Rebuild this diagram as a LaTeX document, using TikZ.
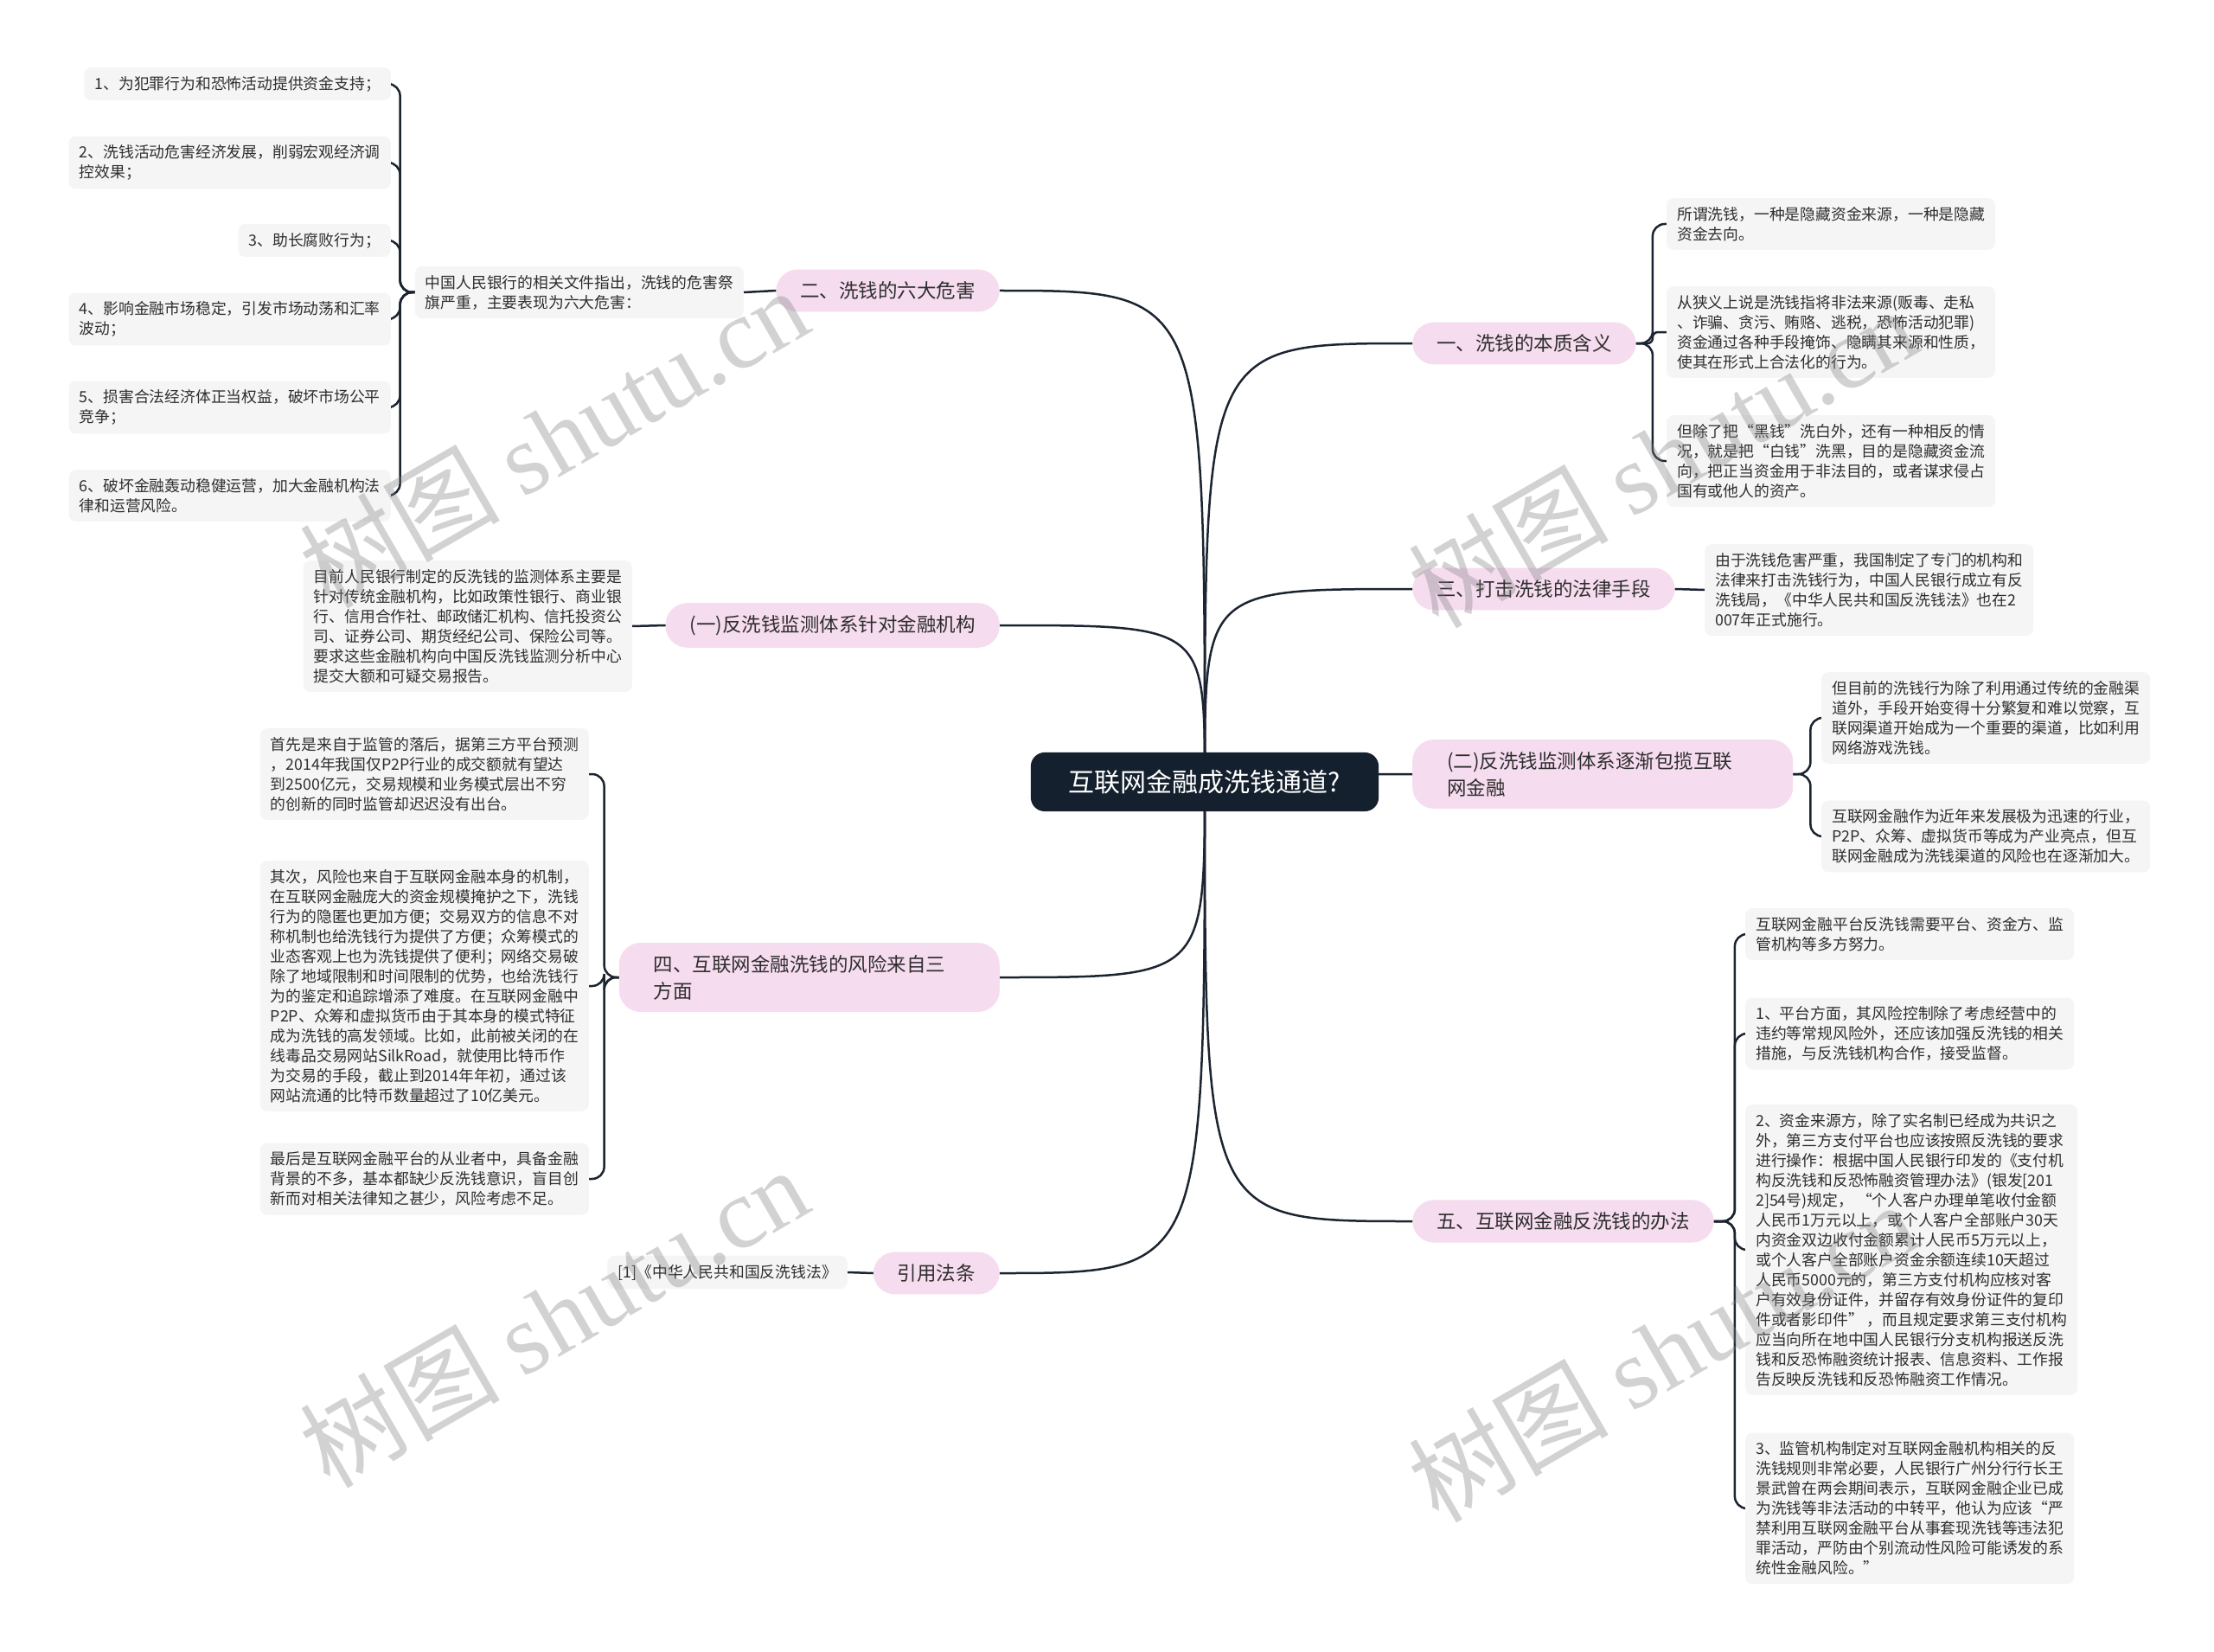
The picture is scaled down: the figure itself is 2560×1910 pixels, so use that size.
\documentclass[tikz,border=0pt]{standalone}
\usepackage{fontspec}
\setmainfont{Noto Sans CJK SC}
\newfontfamily\wmserif{Liberation Serif}
\usetikzlibrary{backgrounds}
\definecolor{rootc}{HTML}{15202E}
\definecolor{pinkc}{HTML}{F6DCEF}
\definecolor{leafc}{HTML}{F5F5F5}
\definecolor{linec}{HTML}{1B2430}
\definecolor{txtc}{HTML}{2E2E2E}
\tikzset{
 rootnode/.style={fill=rootc, text=white, rounded corners=16pt, inner xsep=44pt, inner ysep=20pt, font=\fontsize{30}{36}\selectfont},
 topic/.style={fill=pinkc, text=txtc, rounded corners=25pt, inner xsep=28pt, inner ysep=14pt, font=\fontsize{22.5}{31}\selectfont},
 topicwide/.style={topic, text width=360pt, inner xsep=40pt, align=left},
 leaf/.style={fill=leafc, text=txtc, rounded corners=8pt, inner xsep=12pt, inner ysep=10pt, align=left, font=\fontsize{17.8}{23}\selectfont},
 conn/.style={draw=linec, line width=2.5pt, line cap=round},
 brk/.style={conn, rounded corners=14pt},
 wm/.style={text=black!50, opacity=0.35, rotate=30, font=\fontsize{116}{116}\selectfont}
}
\begin{document}
\begin{tikzpicture}[x=1pt,y=-1pt]
\useasboundingbox (0,0) rectangle (2560,1910);
% root
\node[rootnode] (root) at (1393,904) {互联网金融成洗钱通道?};
% level 1
\node[topic, anchor=east] (n2) at (1156,336) {二、洗钱的六大危害};
\node[topic, anchor=east] (na) at (1156,723) {(一)反洗钱监测体系针对金融机构};
\node[topicwide, anchor=east] (n4) at (1156,1130) {四、互联网金融洗钱的风险来自三\\方面};
\node[topic, anchor=east] (nr) at (1156,1472) {引用法条};
\node[topic, anchor=west] (n1) at (1633,397) {一、洗钱的本质含义};
\node[topic, anchor=west] (n3) at (1633,681) {三、打击洗钱的法律手段};
\node[topicwide, anchor=west] (nb) at (1633,895) {(二)反洗钱监测体系逐渐包揽互联\\网金融};
\node[topic, anchor=west] (n5) at (1633,1412) {五、互联网金融反洗钱的办法};
% left leaves
\node[leaf, anchor=east] (hi) at (860,338) {中国人民银行的相关文件指出，洗钱的危害祭\\旗严重，主要表现为六大危害：};
\node[leaf, anchor=east] (h1) at (452,97) {1、为犯罪行为和恐怖活动提供资金支持；};
\node[leaf, anchor=east] (h2) at (452,188) {2、洗钱活动危害经济发展，削弱宏观经济调\\控效果；};
\node[leaf, anchor=east] (h3) at (452,278) {3、助长腐败行为；};
\node[leaf, anchor=east] (h4) at (452,369) {4、影响金融市场稳定，引发市场动荡和汇率\\波动；};
\node[leaf, anchor=east] (h5) at (452,471) {5、损害合法经济体正当权益，破坏市场公平\\竞争；};
\node[leaf, anchor=east] (h6) at (452,573) {6、破坏金融轰动稳健运营，加大金融机构法\\律和运营风险。};
\node[leaf, anchor=east] (ya) at (731,724) {目前人民银行制定的反洗钱的监测体系主要是\\针对传统金融机构，比如政策性银行、商业银\\行、信用合作社、邮政储汇机构、信托投资公\\司、证券公司、期货经纪公司、保险公司等。\\要求这些金融机构向中国反洗钱监测分析中心\\提交大额和可疑交易报告。};
\node[leaf, anchor=east] (s1) at (681,895) {首先是来自于监管的落后，据第三方平台预测\\，2014年我国仅P2P行业的成交额就有望达\\到2500亿元，交易规模和业务模式层出不穷\\的创新的同时监管却迟迟没有出台。};
\node[leaf, anchor=east] (s2) at (681,1140) {其次，风险也来自于互联网金融本身的机制，\\在互联网金融庞大的资金规模掩护之下，洗钱\\行为的隐匿也更加方便；交易双方的信息不对\\称机制也给洗钱行为提供了方便；众筹模式的\\业态客观上也为洗钱提供了便利；网络交易破\\除了地域限制和时间限制的优势，也给洗钱行\\为的鉴定和追踪增添了难度。在互联网金融中\\P2P、众筹和虚拟货币由于其本身的模式特征\\成为洗钱的高发领域。比如，此前被关闭的在\\线毒品交易网站SilkRoad，就使用比特币作\\为交易的手段，截止到2014年年初，通过该\\网站流通的比特币数量超过了10亿美元。};
\node[leaf, anchor=east] (s3) at (681,1363) {最后是互联网金融平台的从业者中，具备金融\\背景的不多，基本都缺少反洗钱意识，盲目创\\新而对相关法律知之甚少，风险考虑不足。};
\node[leaf, anchor=east] (rf) at (980,1471) {[1]《中华人民共和国反洗钱法》};
% right leaves
\node[leaf, anchor=west] (b1) at (1927,259) {所谓洗钱，一种是隐藏资金来源，一种是隐藏\\资金去向。};
\node[leaf, anchor=west] (b2) at (1927,384) {从狭义上说是洗钱指将非法来源(贩毒、走私\\、诈骗、贪污、贿赂、逃税，恐怖活动犯罪)\\资金通过各种手段掩饰、隐瞒其来源和性质，\\使其在形式上合法化的行为。};
\node[leaf, anchor=west] (b3) at (1927,533) {但除了把“黑钱”洗白外，还有一种相反的情\\况，就是把“白钱”洗黑，目的是隐藏资金流\\向，把正当资金用于非法目的，或者谋求侵占\\国有或他人的资产。};
\node[leaf, anchor=west] (lw) at (1971,682) {由于洗钱危害严重，我国制定了专门的机构和\\法律来打击洗钱行为，中国人民银行成立有反\\洗钱局，《中华人民共和国反洗钱法》也在2\\007年正式施行。};
\node[leaf, anchor=west] (e1) at (2106,830) {但目前的洗钱行为除了利用通过传统的金融渠\\道外，手段开始变得十分繁复和难以觉察，互\\联网渠道开始成为一个重要的渠道，比如利用\\网络游戏洗钱。};
\node[leaf, anchor=west] (e2) at (2106,967) {互联网金融作为近年来发展极为迅速的行业，\\P2P、众筹、虚拟货币等成为产业亮点，但互\\联网金融成为洗钱渠道的风险也在逐渐加大。};
\node[leaf, anchor=west] (f1) at (2018,1080) {互联网金融平台反洗钱需要平台、资金方、监\\管机构等多方努力。};
\node[leaf, anchor=west] (f2) at (2018,1195) {1、平台方面，其风险控制除了考虑经营中的\\违约等常规风险外，还应该加强反洗钱的相关\\措施，与反洗钱机构合作，接受监督。};
\node[leaf, anchor=west] (f3) at (2018,1445) {2、资金来源方，除了实名制已经成为共识之\\外，第三方支付平台也应该按照反洗钱的要求\\进行操作：根据中国人民银行印发的《支付机\\构反洗钱和反恐怖融资管理办法》(银发[201\\2]54号)规定， “个人客户办理单笔收付金额\\人民币1万元以上，或个人客户全部账户30天\\内资金双边收付金额累计人民币5万元以上，\\或个人客户全部账户资金余额连续10天超过\\人民币5000元的，第三方支付机构应核对客\\户有效身份证件，并留存有效身份证件的复印\\件或者影印件” ，而且规定要求第三支付机构\\应当向所在地中国人民银行分支机构报送反洗\\钱和反恐怖融资统计报表、信息资料、工作报\\告反映反洗钱和反恐怖融资工作情况。};
\node[leaf, anchor=west] (f4) at (2018,1744) {3、监管机构制定对互联网金融机构相关的反\\洗钱规则非常必要，人民银行广州分行行长王\\景武曾在两会期间表示，互联网金融企业已成\\为洗钱等非法活动的中转平，他认为应该“严\\禁利用互联网金融平台从事套现洗钱等违法犯\\罪活动，严防由个别流动性风险可能诱发的系\\统性金融风险。”};
% junction coordinates
\coordinate (jh) at ([xshift=-17pt]hi.west);
\coordinate (j4) at ([xshift=-17pt]n4.west);
\coordinate (j1) at ([xshift=19pt]n1.east);
\coordinate (jb) at ([xshift=20pt]nb.east);
\coordinate (j5) at ([xshift=24pt]n5.east);
\begin{scope}[on background layer]
\fill[white] (0,0) rectangle (2560,1910);
\foreach \n in {n2,na,n4,nr}
  \draw[conn] (root.center) .. controls (root.center |- \n.east) and (root.center |- \n.east) .. (\n.east);
\foreach \n in {n1,n3,nb,n5}
  \draw[conn] (root.center) .. controls (root.center |- \n.west) and (root.center |- \n.west) .. (\n.west);
\draw[conn] (n2.west) -- (hi.east);
\draw[conn] (na.west) -- (ya.east);
\draw[conn] (nr.west) -- (rf.east);
\draw[conn] (n3.east) -- (lw.west);
\foreach \c in {h1,h2,h3,h4,h5,h6}
  \draw[brk] (hi.west) -- (jh) |- (\c.east);
\foreach \c in {s1,s2,s3}
  \draw[brk] (n4.west) -- (j4) |- (\c.east);
\foreach \c in {b1,b3}
  \draw[brk] (n1.east) -- (j1) |- (\c.west);
\draw[conn, rounded corners=6pt] (n1.east) -- (j1) |- (b2.west);
\foreach \c in {e1,e2}
  \draw[brk] (nb.east) -- (jb) |- (\c.west);
\foreach \c in {f1,f2,f3,f4}
  \draw[brk] (n5.east) -- (j5) |- (\c.west);
\end{scope}
% watermarks
\node[wm] (w1) at (640,505) {树图 {\wmserif shutu.cn}};
\node[wm] (w2) at (1922,528) {树图 {\wmserif shutu.cn}};
\node[wm] (w3) at (640,1522) {树图 {\wmserif shutu.cn}};
\node[wm] (w4) at (1922,1562) {树图 {\wmserif shutu.cn}};
\end{tikzpicture}
\end{document}
